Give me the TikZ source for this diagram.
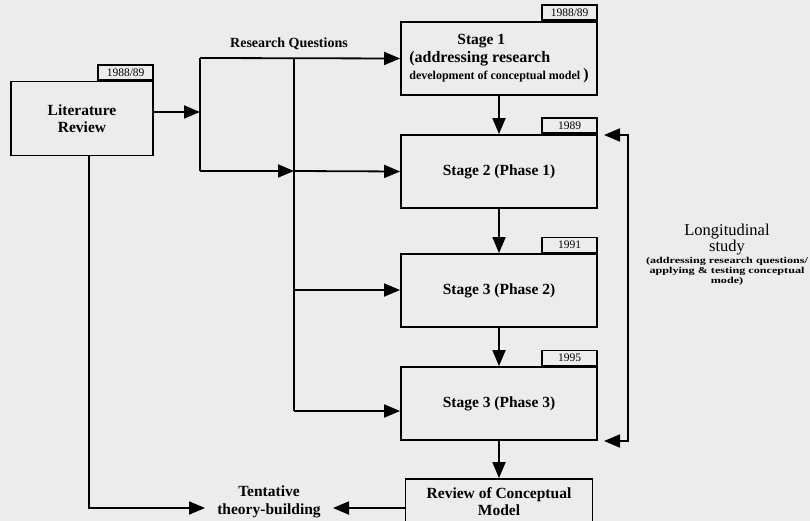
\documentclass[tikz,border=0pt]{standalone}
\usepackage{fontspec}
\setmainfont{Liberation Serif}
\newfontfamily\widefont[FakeStretch=1.35]{Liberation Serif}
\usetikzlibrary{arrows.meta, positioning}
\definecolor{scangray}{RGB}{236,236,236}

\begin{document}
\begin{tikzpicture}[
    x=1pt, y=-1pt,
    font=\fontsize{15.5}{17}\selectfont\bfseries,
    box/.style={draw, line width=1.8pt, minimum width=196pt, minimum height=73pt, align=center, inner sep=2pt},
    tag/.style={draw, line width=1.6pt, minimum width=55pt, minimum height=15pt, inner sep=0pt, font=\fontsize{11.5}{12}\selectfont},
    arrow/.style={-{Triangle[length=16pt, width=13pt]}, line width=1.8pt},
    line/.style={line width=1.8pt},
    bothway/.style={{Triangle[length=16pt, width=13pt]}-{Triangle[length=16pt, width=13pt]}, line width=1.8pt},
]
\fill[scangray] (0,0) rectangle (810,521);
\useasboundingbox (0,0) rectangle (810,521);

% Literature review
\node[box, minimum width=142pt, minimum height=74pt] (lit) at (82,118.5) {Literature\\Review};
\node[tag, above left=0pt of lit.north east] (littag) {1988/89};
\node[font=\fontsize{14}{15}\selectfont\bfseries] (rq) at (289,44) {Research Questions};

% Stages
\node[box, align=left] (s1) at (499,58.5) {\makebox[144pt]{Stage 1}\\[1pt]
    {\fontsize{16}{17}\selectfont (addressing research}\\
    {\fontsize{12}{14}\selectfont development of conceptual model {\fontsize{16}{15}\selectfont)}}};
\node[tag, above left=0pt of s1.north east] (s1tag) {1988/89};
\node[box] (s2) at (499,171.5) {Stage 2 (Phase 1)};
\node[tag, above left=0pt of s2.north east] (s2tag) {1989};
\node[box] (p2) at (499,290.5) {Stage 3 (Phase 2)};
\node[tag, above left=0pt of p2.north east] (p2tag) {1991};
\node[box] (p3) at (499,403.5) {Stage 3 (Phase 3)};
\node[tag, above left=0pt of p3.north east] (p3tag) {1995};
\node[box, minimum width=187pt, minimum height=46pt] (rev) at (499,502) {Review of Conceptual\\Model};
\node[font=\fontsize{15.5}{18}\selectfont\bfseries, align=center, inner sep=0pt] (tent) at (269,502) {Tentative\\theory-building};

% Longitudinal study
\node[font=\fontsize{16.5}{15}\selectfont, align=center] (lhead) at (727,240) {Longitudinal\\study};
\node[font=\widefont\bfseries\fontsize{9}{10}\selectfont, align=center] (lnote) at (727,271) {(addressing research questions/\\applying \& testing conceptual\\mode)};

% Junction points
\coordinate (ra) at (200,58);
\coordinate (rj) at (200,112);
\coordinate (rb) at (200,171);
\coordinate (ct) at (294,58);
\coordinate (cb) at (294,171);
\coordinate (cm) at (294,290);
\coordinate (cd) at (294,411);
\coordinate (lrd) at (89,508);
\coordinate (tl) at (205,508);
\coordinate (tr) at (333,508);
\coordinate (bt) at (604,135);
\coordinate (btc) at (628,135);
\coordinate (bbc) at (628,441);
\coordinate (bb) at (604,441);

% Research questions
\draw[arrow] (rj -| lit.east) -- (rj);
\draw[line] (ra) -- (rb);
\draw[arrow] (ra) -- (s1.west);
\draw[arrow] (rb) -- (cb);
\draw[arrow] (cb) -- (s2.west);
\draw[line] (ct) -- (cd);
\draw[arrow] (cm) -- (cm -| p2.west);
\draw[arrow] (cd) -- (cd -| p3.west);

% Stage sequence
\draw[arrow] (s1) -- (s2);
\draw[arrow] (s2) -- (p2);
\draw[arrow] (p2) -- (p3);
\draw[arrow] (p3) -- (rev);
\draw[bothway] (bt) -- (btc) -- (bbc) -- (bb);

% Theory building
\draw[arrow] (lit.south -| lrd) -- (lrd) -- (tl);
\draw[arrow] (rev.west |- tr) -- (tr);
\end{tikzpicture}
\end{document}
